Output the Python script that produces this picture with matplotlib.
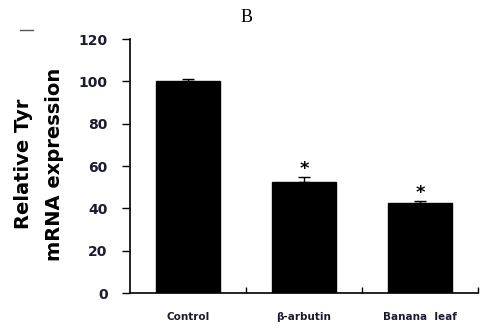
import matplotlib
matplotlib.use('Agg')
import matplotlib.pyplot as plt
from matplotlib.lines import Line2D
import numpy as np

groups = ['Control', 'β-arbutin', 'Banana  leaf']
expression = [100.0, 52.6, 42.7]
errors = [1.0, 2.4, 1.0]
significant = [False, True, True]
y_ticks = [0, 20, 40, 60, 80, 100, 120]

fig = plt.figure(figsize=(4.81, 3.28), dpi=100)
ax = fig.add_axes([0.270, 0.1067, 0.724, 0.7743])

x = np.arange(len(groups))
ax.bar(x, expression, width=0.55, color='black', edgecolor='black')
ax.errorbar(x, expression, yerr=[np.zeros(len(errors)), errors], fmt='none',
            ecolor='black', elinewidth=1, capsize=4.5, capthick=1)

for xi, v, e, s in zip(x, expression, errors, significant):
    if s:
        ax.text(xi, v + e - 0.5, '*', ha='center', va='bottom',
                fontsize=13, fontweight='bold', color='black')

ax.set_xlim(-0.5, len(groups) - 0.5)
ax.set_ylim(0, 120)
ax.set_yticks(y_ticks)
ax.set_yticklabels([str(t) for t in y_ticks], fontsize=10, fontweight='bold',
                   color='#1c1c30')
ax.tick_params(axis='y', direction='out', length=6, width=1, pad=10)

ax.set_xticks(x)
ax.set_xticklabels(groups, fontsize=7.5, fontweight='bold', color='#1c1c30')
ax.tick_params(axis='x', which='major', length=0, pad=14)
ax.set_xticks(list(x[:-1] + 0.5) + [len(groups) - 0.5], minor=True)
ax.tick_params(axis='x', which='minor', direction='in', length=4, width=1)

for side in ['top', 'right']:
    ax.spines[side].set_visible(False)
for side in ['left', 'bottom']:
    ax.spines[side].set_linewidth(1.2)

fig.text(0.048, 0.5, 'Relative Tyr', rotation=90, ha='center', va='center',
         fontsize=14, fontweight='bold')
fig.text(0.114, 0.5, 'mRNA expression', rotation=90, ha='center', va='center',
         fontsize=14, fontweight='bold')

fig.text(0.513, 0.947, 'B', ha='center', va='center', fontsize=13,
         family='Liberation Serif')
fig.add_artist(Line2D([0.042, 0.068], [0.908, 0.908], color='#555555', lw=1))

fig.savefig('out.png', dpi=100)
